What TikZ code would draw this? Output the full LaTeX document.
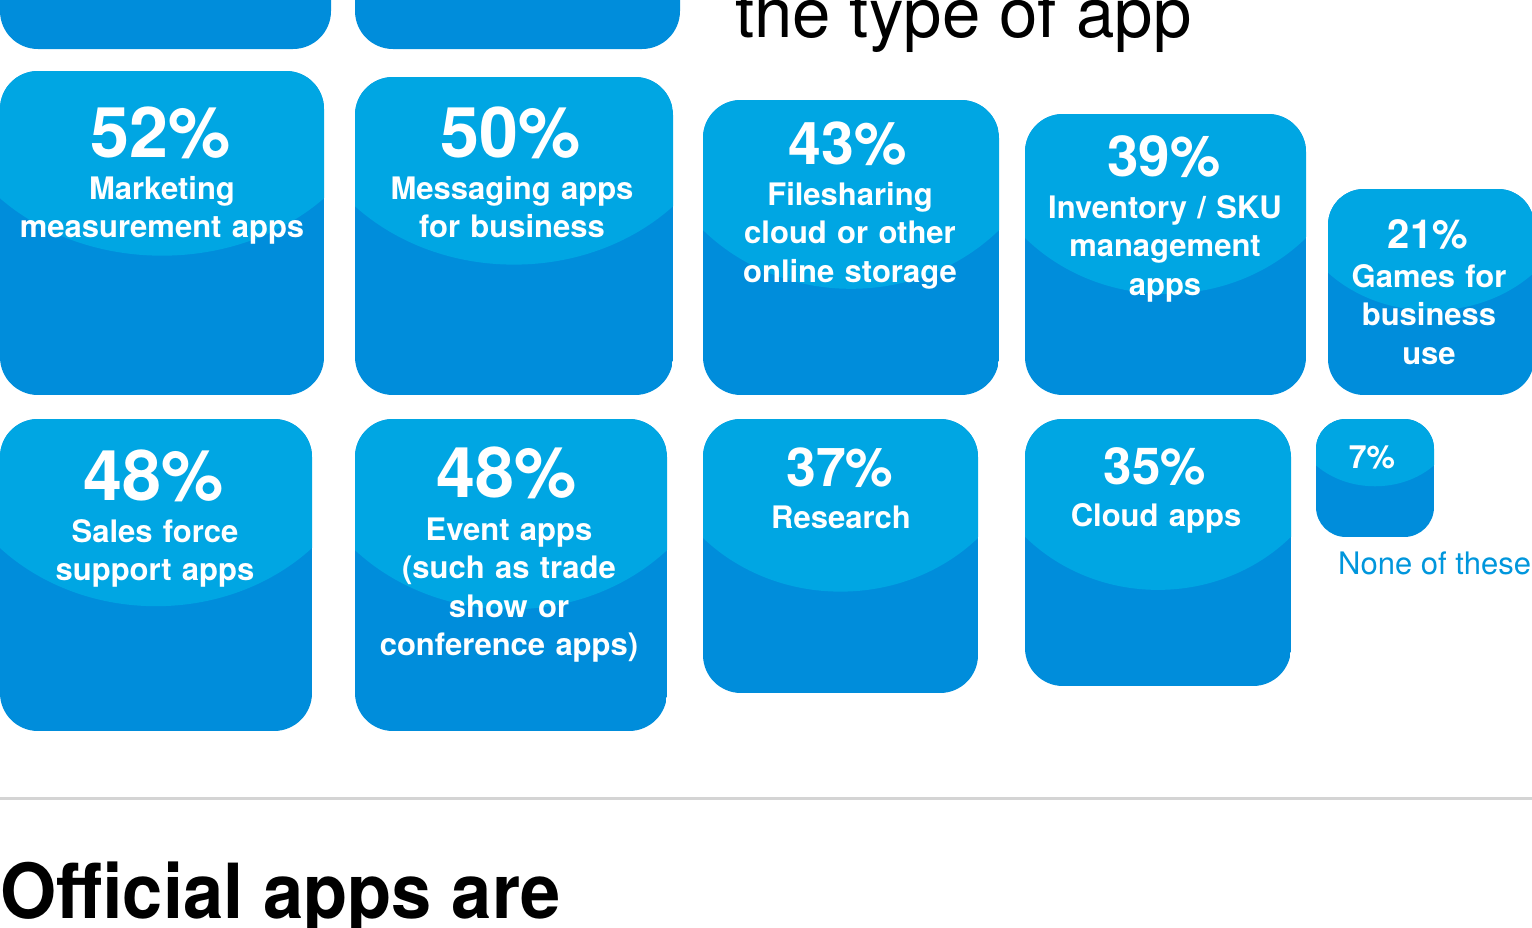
\documentclass[tikz,border=0pt]{standalone}
\usepackage{fontspec}
\setmainfont{TeX Gyre Heros}
\definecolor{appdark}{RGB}{0,141,219}
\definecolor{applight}{RGB}{0,166,227}
\definecolor{nonetext}{RGB}{0,150,220}
\definecolor{rulegray}{RGB}{212,212,212}
\newcommand\appbox[6]{%
  \begin{scope}
    \clip[rounded corners=#5pt] (#1,#2) rectangle ++(#3,#4);
    \fill[appdark] (#1,#2) rectangle ++(#3,#4);
    \fill[applight] ({#1+#3/2},#2) ellipse [x radius={0.69*#3}, y radius={#6*#4}];
  \end{scope}}
\tikzset{
  pct/.style={text=white, font=\bfseries\fontsize{#1}{#1}\selectfont, anchor=base, inner sep=0pt},
  lbl/.style={text=white, font=\bfseries\fontsize{31}{38.5}\selectfont, align=center, text width=360pt, anchor=base, inner sep=0pt},
}
\begin{document}
\begin{tikzpicture}[x=1pt,y=-1pt]
\useasboundingbox (0,0) rectangle (1532,927);
\clip (0,0) rectangle (1532,927);
% partial boxes at top
\fill[appdark, rounded corners=38pt] (0,-300) rectangle (331,49);
\fill[appdark, rounded corners=38pt] (355,-300) rectangle (680,49);
\node[anchor=base west, inner sep=0pt, font=\fontsize{69}{69}\selectfont] (title) at (735,37) {the type of app};
% row 1
\appbox{0}{71}{324}{324}{38}{0.57}
\appbox{355}{77}{318}{318}{38}{0.59}
\appbox{703}{100}{296}{295}{38}{0.64}
\appbox{1025}{114}{281}{281}{38}{0.64}
\appbox{1328}{189}{206}{206}{36}{0.59}
% row 2
\appbox{0}{419}{312}{312}{38}{0.60}
\appbox{355}{419}{312}{312}{38}{0.61}
\appbox{703}{419}{275}{274}{38}{0.63}
\appbox{1025}{419}{266}{267}{38}{0.64}
\appbox{1316}{419}{118}{118}{30}{0.57}
% texts row 1
\node[pct=70] (pA) at (161,157) {52\%};
\node[lbl] (lA) at (162,199) {Marketing\\measurement apps};
\node[pct=70] (pB) at (511,157) {50\%};
\node[lbl] (lB) at (512,199) {Messaging apps\\for business};
\node[pct=59] (pC) at (848,164) {43\%};
\node[lbl] (lC) at (850,205) {Filesharing\\cloud or other\\online storage};
\node[pct=56.5] (pD) at (1164,176) {39\%};
\node[lbl] (lD) at (1165,218) {Inventory / SKU\\management\\apps};
\node[pct=40] (pE) at (1428,248) {21\%};
\node[lbl] (lE) at (1429,287) {Games for\\business\\use};
% texts row 2
\node[pct=70] (pF) at (154,500) {48\%};
\node[lbl] (lF) at (155,542) {Sales force\\support apps};
\node[pct=70] (pG) at (507,497) {48\%};
\node[lbl] (lG) at (509,540) {Event apps\\(such as trade\\show or\\conference apps)};
\node[pct=53.5] (pH) at (840,486) {37\%};
\node[lbl] (lH) at (841,528) {Research};
\node[pct=51] (pI) at (1155,484) {35\%};
\node[lbl] (lI) at (1156,526) {Cloud apps};
\node[pct=32] (pJ) at (1372,468) {7\%};
\node[anchor=base west, inner sep=0pt, text=nonetext, font=\fontsize{31}{31}\selectfont] (none) at (1338,574) {None of these};
% rule and heading
\draw[rulegray, line width=3pt] (0,798) -- (1532,798);
\node[anchor=base west, inner sep=0pt, font=\bfseries\fontsize{76}{76}\selectfont] (head) at (0,918) {\scalebox{0.95}[1]{Official apps are}};
\end{tikzpicture}
\end{document}
